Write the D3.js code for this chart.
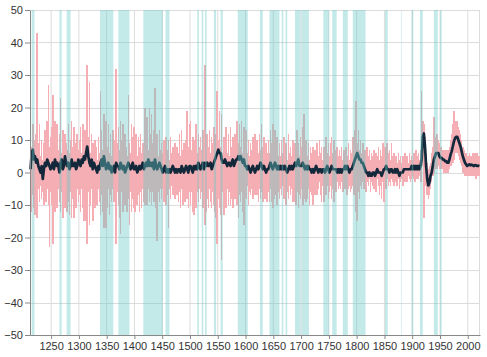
<!DOCTYPE html>
<html><head><meta charset="utf-8">
<script src="https://cdn.jsdelivr.net/npm/d3@7"></script>
<style>body{margin:0;background:#fff}svg{display:block}</style>
</head><body><svg id="c" width="487" height="357"></svg>
<script>
// annual data binned in 2-year steps starting in 1212
const startYear = 1212, step = 2;
const hi = [
14,8,15,10,
6,12,43,9,15, 5,10,4,9,13, 6,16,27,8,11, 14,24,6,16,9, 15,7,12,23,6, 13,5,12,9,7, 15,6,10,16,8, 14,9,5,12,7,
10,14,6,15,9, 13,7,33,11,28, 6,12,9,5,10, 8,4,11,6,25, 13,7,18,9,16, 8,15,6,12,5, 13,6,10,32,9, 14,7,16,10,15, 6,12,8,5,24, 9,6,15,11,14,
7,12,5,11,8, 12,6,9,5,20, 10,17,7,20,12, 18,9,13,26,8, 12,5,13,7,9, 6,10,5,11,7, 10,4,11,6,8, 5,9,4,8,6, 12,5,13,7,9, 6,10,19,8,15,
16,7,11,5,10, 15,6,12,8,11, 7,13,9,33,6, 12,8,13,6,11, 9,14,7,12,25, 10,19,8,18,6, 11,7,14,6,12, 5,14,8,11,6, 12,7,16,9,15, 8,16,6,14,9,
13,6,10,5,9, 7,11,5,12,6, 10,6,12,7,15, 8,11,5,9,6, 10,6,13,9,15, 7,13,8,11,5, 9,5,10,6,11, 5,9,4,12,6, 8,5,10,6,9, 7,13,9,5,11,
8,14,18,6,10, 5,9,4,8,6, 8,4,7,5,9, 5,10,6,8,4, 8,5,11,6,9, 5,9,11,6,10, 7,4,8,5,7, 5,8,4,7,6, 8,5,9,4,7, 6,11,7,13,22,
9,13,7,10,6, 9,5,7,4,8, 5,7,4,6,5, 7,4,6,5,8, 4,7,5,9,6, 8,5,9,6,7, 4,9,5,6,4, 5,3,6,4,5, 3,5,4,6,4, 5,3,6,4,5,
4,6,5,7,5, 6,4,7,25,16, 15,11,6,3,1, 2,3,6,8,17, 10,11,12,10,9, 8,8,7,7,7, 7,7,7,8,10, 12,15,19,16,15, 16,14,13,12,10, 8,7,6,6,5,
5,6,5,5,6, 5,6,5,6,5,
5];
const lo = [
-8,-12,-7,-11,
-13,-6,-14,-5,-9, -4,-8,-6,-10,-5, -9,-5,-10,-23,-6, -10,-22,-5,-12,-7, -11,-5,-9,-12,-6, -14,-7,-11,-5,-12, -9,-13,-6,-14,-8, -14,-6,-11,-5,-9,
-7,-12,-5,-11,-15, -8,-15,-22,-6,-16, -10,-5,-15,-8,-11, -6,-10,-5,-9,-13, -7,-12,-17,-6,-17, -11,-5,-13,-7,-9, -5,-9,-8,-22,-6, -10,-14,-19,-6,-12, -5,-10,-7,-12,-8, -16,-6,-12,-8,-11,
-12,-5,-10,-7,-12, -6,-11,-5,-9,-10, -7,-10,-5,-9,-6, -10,-6,-9,-5,-11, -21,-6,-9,-5,-8, -5,-9,-6,-10,-7, -17,-5,-8,-4,-7, -5,-8,-4,-7,-9, -6,-11,-5,-10,-7, -9,-5,-8,-11,-6,
-10,-6,-12,-13,-5, -11,-6,-9,-5,-8, -6,-11,-7,-16,-12, -8,-11,-5,-9,-11, -6,-10,-12,-14,-22, -8,-11,-13,-27,-6, -13,-7,-11,-5,-10, -6,-10,-8,-11,-5, -8,-5,-10,-14,-7, -9,-6,-12,-16,-5,
-8,-4,-10,-6,-7, -5,-8,-4,-7,-6, -7,-9,-5,-8,-6, -9,-4,-8,-5,-9, -6,-9,-5,-9,-11, -8,-5,-7,-10,-6, -8,-5,-7,-4,-8, -5,-10,-6,-8,-4, -7,-5,-9,-6,-9, -10,-6,-11,-7,-8,
-5,-10,-8,-6,-9, -8,-5,-10,-6,-7, -10,-5,-7,-4,-7, -5,-3,-7,-9,-4, -9,-5,-7,-4,-8, -6,-4,-8,-5,-9, -4,-6,-3,-5,-4, -5,-3,-6,-4,-5, -3,-7,-5,-4,-6, -5,-4,-7,-5,-12,
-15,-6,-8,-4,-5, -3,-5,-4,-6,-3, -4,-2,-6,-3,-4, -5,-3,-6,-2,-4, -7,-4,-8,-3,-9, -3,-5,-2,-4,-3, -4,-2,-3,-4,-2, -3,-4,-2,-5,-3, -2,-4,-3,-2,-3, -3,-1,-2,-3,-2,
-1,-2,-3,-1,-2, -2,-1,-3,-3,2, -14,3,-4,-7,-8, -7,-5,-3,-1,0, 1,2,1,2,1, 1,1,1,0,0, 0,0,0,1,2, 2,3,4,6,6, 6,5,4,3,2, 0,0,-1,-1,-1,
-1,-1,-1,-1,-1, -1,-1,-2,-1,-1,
-1];
const mid = [
1,6,7,4,
5,3,4,2,1, 0,2,-2,1,3, 2,4,3,2,1, 2,3,1,4,2, 3,2,0,3,4, 1,2,5,3,2, 3,1,2,4,2, 2,3,1,2,4,
3,2,4,3,5, 4,6,8,5,3, 2,4,1,3,2, 1,0,2,1,3, 4,2,5,3,1, 2,3,1,2,0, 1,2,0,3,2, 2,1,3,2,1, 2,0,1,2,3, 2,1,2,3,1,
1,2,0,1,2, 1,2,3,1,2, 3,2,4,2,3, 2,3,1,4,2, 1,2,3,2,1, 0,1,2,0,1, 0,1,0,1,2, 1,0,1,0,1, 1,0,2,1,0, 1,2,1,0,2,
2,1,0,2,1, 2,1,3,2,1, 2,3,1,3,2, 3,2,2,3,1, 2,3,4,5,6, 7,6,6,4,3, 3,4,3,2,3, 3,2,3,4,2, 3,4,4,5,4, 5,4,3,4,2,
2,1,2,1,0, 1,2,1,0,1, 2,1,2,3,2, 1,2,1,0,1, 1,2,3,2,1, 2,3,2,1,2, 1,2,1,2,1, 2,1,0,1,2, 1,2,1,2,3, 2,3,4,2,2,
2,3,2,1,2, 1,2,1,1,0, 1,0,1,2,1, 0,1,1,0,1, 1,0,1,2,1, 0,1,2,1,1, 1,1,0,1,0, 1,0,1,1,2, 1,2,1,0,1, 1,2,3,4,5,
6,5,4,4,3, 3,2,1,0,0, -1,0,-1,-1,0, 0,-1,0,1,0, 0,0,-1,0,1, 1,2,1,1,0, 1,1,0,0,1, 0,1,0,-1,0, 0,0,1,1,1, 1,1,1,1,2,
1,2,1,2,1, 2,1,2,4,11, 12,8,2,-2,-4, -3,-1,0,2,4, 5,6,6,6,5, 4.5,4.5,4,4,3.5, 3.5,3,3,4,5.5, 6.5,8,9.5,10.5,11, 11,10,9,8,6.5, 5,4,3,2.5,2,
2.3,2.5,2.2,2.4,2.2, 2,2.3,2.2,2,2.1,
2];
// highlighted periods (inclusive years)
const bandStart = [1215,1265,1278,1338,1371,1416,1456,1513,1521,1527,1543,1555,1586,1626,1643,1665,1672,1689,1701,1740,1756,1775,1793,1851,1880,1899,1914,1939,1950];
const bandEnd   = [1219,1268,1284,1361,1390,1450,1462,1515,1523,1529,1546,1558,1603,1630,1660,1667,1674,1698,1713,1749,1763,1783,1815,1855,1880,1901,1918,1945,1952];
const xTicks = [1250,1300,1350,1400,1450,1500,1550,1600,1650,1700,1750,1800,1850,1900,1950,2000];
const yTicks = [-50,-40,-30,-20,-10,0,10,20,30,40,50];

const W = 487, H = 357, m = {l:30, r:7, t:10, b:22};
const svg = d3.select('#c');
const x = d3.scaleLinear().domain([1212, 2022]).range([m.l, W - m.r]);
const y = d3.scaleLinear().domain([-50, 50]).range([H - m.b, m.t]);

const data = hi.map((h, i) => ({year: startYear + i*step, hi: h, lo: lo[i], mid: mid[i]}));
const bands = bandStart.map((s, i) => ({s, e: bandEnd[i]}));

// grid
const grid = svg.append('g').attr('stroke', '#dcdcdc').attr('stroke-width', 1);
grid.selectAll('line.h').data(yTicks).join('line')
  .attr('x1', m.l).attr('x2', W - m.r)
  .attr('y1', d => Math.round(y(d)) + 0.5).attr('y2', d => Math.round(y(d)) + 0.5);
grid.selectAll('line.v').data(xTicks).join('line')
  .attr('y1', m.t).attr('y2', H - m.b)
  .attr('x1', d => x(d)).attr('x2', d => x(d));
grid.append('line').attr('x1', W - m.r - 0.5).attr('x2', W - m.r - 0.5).attr('y1', m.t).attr('y2', H - m.b);

// range bars (slightly widened so single-year spikes stay visible)
svg.append('g').attr('shape-rendering', 'crispEdges').selectAll('rect').data(data).join('rect')
  .attr('x', d => x(d.year) - 0.25)
  .attr('width', d => x(d.year + step) - x(d.year) + 0.5)
  .attr('y', d => y(d.hi))
  .attr('height', d => y(d.lo) - y(d.hi))
  .attr('fill', '#f5afb4');

// smoothed line
svg.append('path').datum(data)
  .attr('fill', 'none').attr('stroke', '#13283a').attr('stroke-width', 2.7)
  .attr('stroke-linejoin', 'round')
  .attr('d', d3.line().x(d => x(d.year + step/2)).y(d => y(d.mid)));

// highlighted periods drawn on top, translucent
svg.append('g').selectAll('rect').data(bands).join('rect')
  .attr('x', d => x(d.s))
  .attr('width', d => x(d.e + 1) - x(d.s))
  .attr('y', m.t).attr('height', (H - m.b) - m.t)
  .attr('fill', '#69c8c5').attr('fill-opacity', 0.4);

// axes
const fontFam = '"Liberation Sans", Arial, sans-serif';
const ax = svg.append('g').attr('transform', `translate(${m.l},0)`)
  .call(d3.axisLeft(y).tickValues(yTicks).tickSize(5).tickSizeOuter(0).tickPadding(2));
const bx = svg.append('g').attr('transform', `translate(0,${H - m.b})`)
  .call(d3.axisBottom(x).tickValues(xTicks).tickFormat(d3.format('d')).tickSize(4).tickSizeOuter(0).tickPadding(3));
[ax, bx].forEach(g => {
  g.selectAll('path.domain').attr('stroke', '#888');
  g.selectAll('.tick line').attr('stroke', '#888');
  g.selectAll('text').attr('fill', '#333').style('font-size', '11px').style('font-family', fontFam);
});
</script>
</body></html>
